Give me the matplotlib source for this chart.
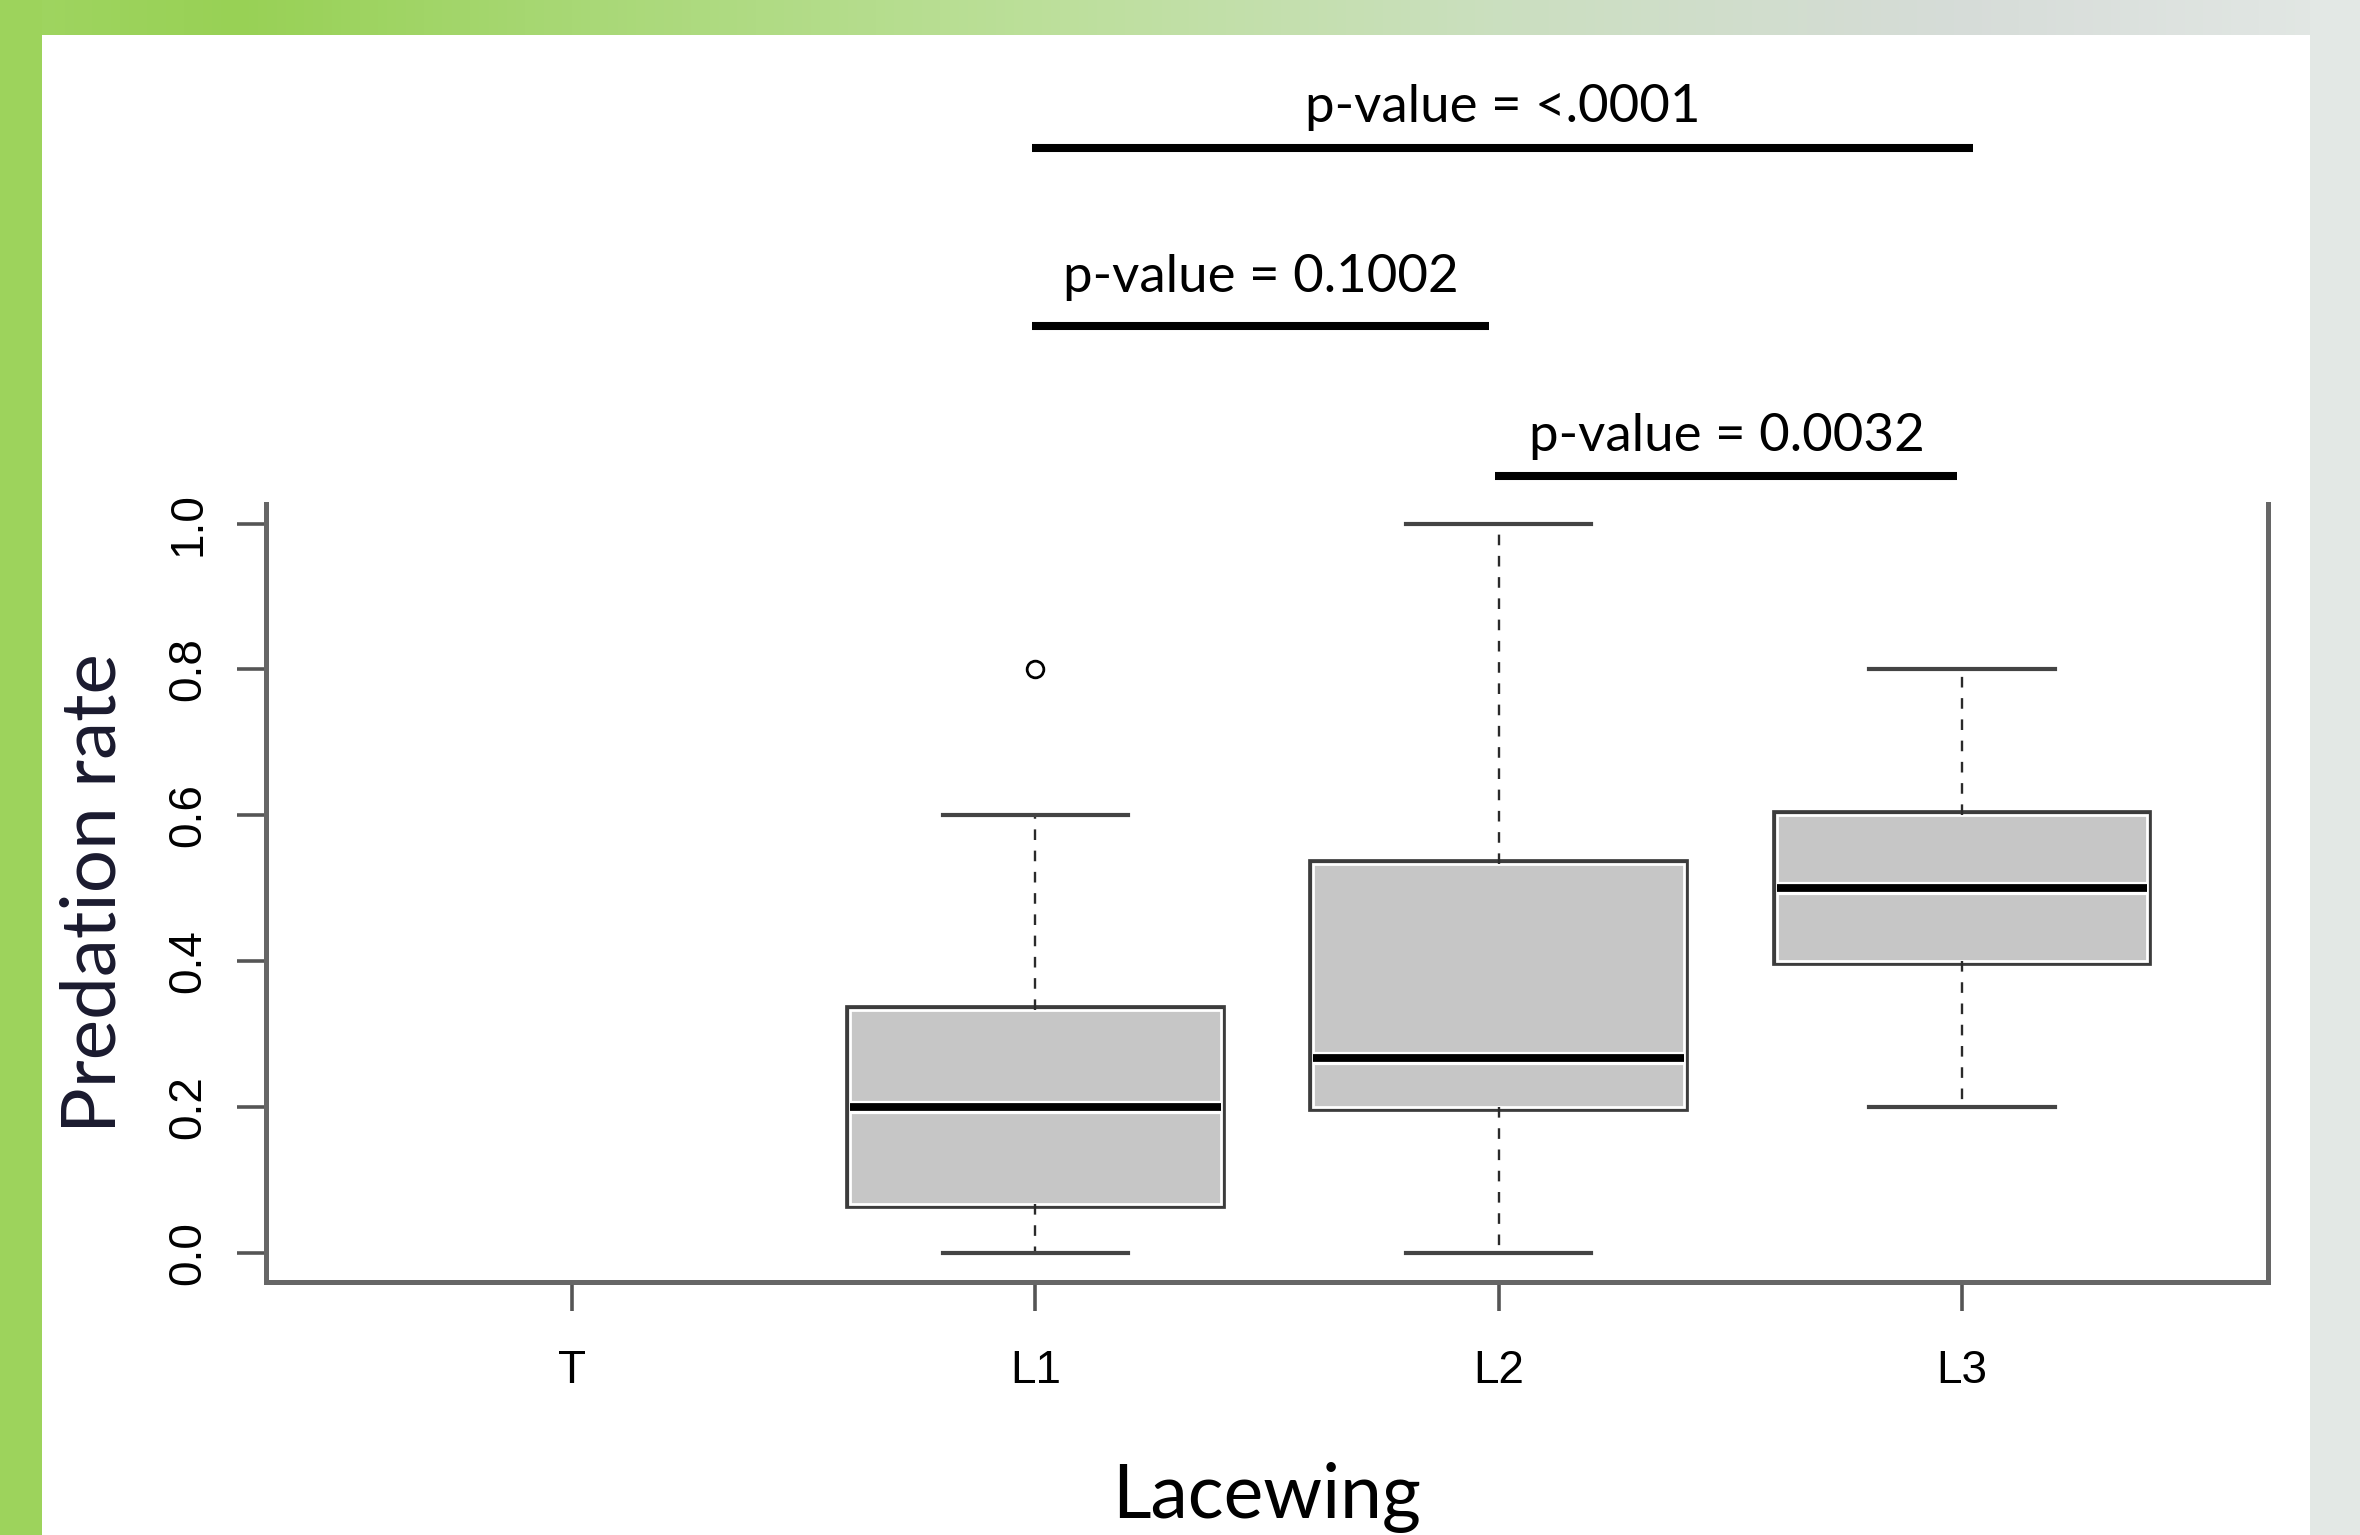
import numpy as np
import matplotlib
matplotlib.use("Agg")
import matplotlib.pyplot as plt
import matplotlib.patheffects as pe
from matplotlib.colors import LinearSegmentedColormap
from matplotlib.patches import Rectangle

# ----------------------------------------------------------------------------------
# Data
# ----------------------------------------------------------------------------------
groups = ['T', 'L1', 'L2', 'L3']
box_groups = ['L1', 'L2', 'L3']          # T has no data
q1 = [0.067, 0.20, 0.40]
med = [0.20, 0.267, 0.50]
q3 = [0.333, 0.533, 0.60]
whis_lo = [0.0, 0.0, 0.20]
whis_hi = [0.60, 1.00, 0.80]
outliers = [[0.80], [], []]

y_ticks = [0.0, 0.2, 0.4, 0.6, 0.8, 1.0]
y_ticklabels = ['0.0', '0.2', '0.4', '0.6', '0.8', '1.0']

# pairwise comparisons: (from group, to group, label)
comp_from = ['L1', 'L1', 'L2']
comp_to = ['L3', 'L2', 'L3']
comp_text = ['p-value = <.0001', 'p-value = 0.1002', 'p-value = 0.0032']

# ----------------------------------------------------------------------------------
# Figure + background frame
# ----------------------------------------------------------------------------------
W, H = 2360, 1535
fig = plt.figure(figsize=(W / 100, H / 100), dpi=100)
fig.patch.set_facecolor('white')

bg = fig.add_axes([0, 0, 1, 1], zorder=-5)
bg.axis('off')
grad = LinearSegmentedColormap.from_list(
    'band', [(0.0, '#a0d562'), (0.10, '#98d155'), (0.24, '#a8d875'),
             (0.45, '#bde09c'), (0.64, '#cbdfc0'), (0.83, '#d6dcd8'),
             (1.0, '#e3e8e5')])
bg.imshow(np.linspace(0, 1, 512)[None, :], cmap=grad, aspect='auto',
          extent=[0, W, 35, 0])
bg.add_patch(Rectangle((0, 0), 42, H, color='#9dd35c', lw=0))
bg.add_patch(Rectangle((2310, 0), 50, H, color='#e3e8e5', lw=0))
bg.set_xlim(0, W)
bg.set_ylim(H, 0)

# ----------------------------------------------------------------------------------
# Boxplot
# ----------------------------------------------------------------------------------
ax = fig.add_axes([0.1127, 0.1648, 0.8483, 0.5069])
ax.set_facecolor('none')
pos = {g: i + 1 for i, g in enumerate(groups)}

stats = []
for i, g in enumerate(box_groups):
    stats.append(dict(med=med[i], q1=q1[i], q3=q3[i], whislo=whis_lo[i],
                      whishi=whis_hi[i], fliers=outliers[i], label=g))

bp = ax.bxp(stats, positions=[pos[g] for g in box_groups], widths=0.8,
            capwidths=0.4, patch_artist=True, manage_ticks=False,
            boxprops=dict(facecolor='#c6c6c6', edgecolor='white', lw=2.0),
            medianprops=dict(color='black', lw=5.6),
            whiskerprops=dict(color='#2a2a2a', lw=1.7, dashes=(4.5, 4.5)),
            capprops=dict(color='#444444', lw=3.0),
            flierprops=dict(marker='o', markersize=12, markerfacecolor='none',
                            markeredgecolor='black', markeredgewidth=2.0))
for b in bp['boxes']:
    b.set_path_effects([pe.Stroke(linewidth=7.0, foreground='#3c3c3c'),
                        pe.Normal()])
for m in bp['medians']:
    m.set_path_effects([pe.Stroke(linewidth=9.5, foreground='white'),
                        pe.Normal()])

ax.set_xlim(0.34, 4.66)
ax.set_ylim(-0.04, 1.027)

for s in ['left', 'bottom', 'right']:
    ax.spines[s].set_color('#666666')
    ax.spines[s].set_linewidth(3.6)
ax.spines['top'].set_visible(False)

tick_font = dict(family='Liberation Sans', size=33)
ax.set_xticks([pos[g] for g in groups])
ax.set_xticklabels(groups, fontdict=tick_font)
ax.set_yticks(y_ticks)
ax.set_yticklabels(y_ticklabels, fontdict=tick_font, rotation=90, va='center')
ax.tick_params(axis='both', length=21, width=2.6, color='#555555')
ax.tick_params(axis='x', pad=27)
ax.tick_params(axis='y', pad=19)

label_font = ['Lato', 'DejaVu Sans']
ax.set_xlabel('Lacewing', family=label_font, fontsize=54, labelpad=50)
ax.set_ylabel('Predation rate', family=label_font, fontsize=55, labelpad=27,
              color='#1a1a2e')

# ----------------------------------------------------------------------------------
# Significance brackets above the plot
# ----------------------------------------------------------------------------------
line_y = [1.515, 1.271, 1.065]
text_y = [1.570, 1.338, 1.120]
end_pad = [0.023, -0.02, -0.01]
for i in range(len(comp_text)):
    x0 = pos[comp_from[i]] - 0.007
    x1 = pos[comp_to[i]] + end_pad[i]
    ax.plot([x0, x1], [line_y[i], line_y[i]], color='black', lw=5.8,
            solid_capstyle='butt', clip_on=False)
    ax.text((x0 + x1) / 2, text_y[i], comp_text[i], family=label_font,
            fontsize=38, ha='center', va='center', clip_on=False)

fig.savefig('out.png', dpi=100)
